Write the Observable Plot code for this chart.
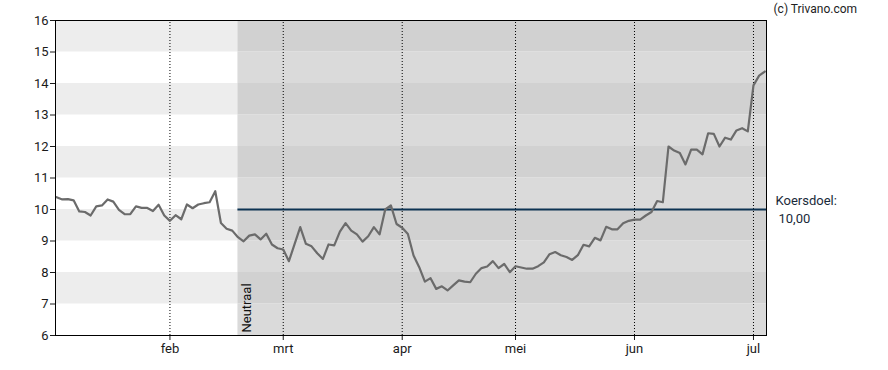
<!DOCTYPE html>
<html>
<head>
<meta charset="utf-8">
<script src="https://cdn.jsdelivr.net/npm/d3@7"></script>
<script src="https://cdn.jsdelivr.net/npm/@observablehq/plot@0.6"></script>
<style>
  html, body { margin: 0; padding: 0; background: #fff; }
  #chart { width: 888px; height: 370px; }
</style>
</head>
<body>
<div id="chart"></div>
<script>
// Closing prices, one per trading day
const prices = [
  10.39, 10.32, 10.33, 10.29, 9.94, 9.92, 9.81, 10.10, 10.13, 10.32, 10.25, 9.99, 9.85, 9.85, 10.10, 10.05, 10.05, 9.95, 10.15, 9.81, 9.64, 9.82, 9.69,
  10.16, 10.04, 10.16, 10.20, 10.23, 10.58, 9.57, 9.39, 9.33, 9.12, 8.99, 9.17, 9.21, 9.05, 9.23, 8.89, 8.77, 8.73, 8.36, 8.90, 9.44,
  8.91, 8.83, 8.61, 8.43, 8.89, 8.86, 9.30, 9.57, 9.33, 9.21, 8.98, 9.15, 9.44, 9.21, 10.00, 10.13, 9.54, 9.42,
  9.22, 8.54, 8.17, 7.71, 7.82, 7.48, 7.56, 7.43, 7.59, 7.75, 7.71, 7.69, 7.96, 8.14, 8.19, 8.36, 8.14, 8.27, 8.01, 8.20,
  8.16, 8.12, 8.12, 8.20, 8.32, 8.58, 8.65, 8.55, 8.49, 8.40, 8.55, 8.88, 8.83, 9.10, 9.02, 9.45, 9.37, 9.37, 9.56, 9.64, 9.68, 9.68,
  9.81, 9.92, 10.27, 10.23, 12.00, 11.87, 11.79, 11.43, 11.90, 11.90, 11.75, 12.42, 12.40, 12.00, 12.28, 12.22, 12.51, 12.58, 12.48, 13.94, 14.25, 14.38
];
// Month starts (trading-day index) and their labels
const monthTickIndex = [20, 40, 61, 81, 102, 123];
const monthLabels = ["feb", "mrt", "apr", "mei", "jun", "jul"];
const yTicks = [6, 7, 8, 9, 10, 11, 12, 13, 14, 15, 16];
const neutralStartIndex = 32;
const neutralLabel = "Neutraal";
const targetValue = 10;
const targetLabel = "Koersdoel:";
const targetValueLabel = "10,00";
const credit = "(c) Trivano.com";

const xMin = -0.2, xMax = 125.3;
const data = prices.map((v, i) => ({i, v}));

const bands = [];
for (let k = 6; k < 16; k++) {
  const shaded = (k % 2) === 1;
  bands.push({x1: xMin, x2: neutralStartIndex, y1: k, y2: k + 1, fill: shaded ? "#ededed" : "#ffffff"});
  bands.push({x1: neutralStartIndex, x2: xMax, y1: k, y2: k + 1, fill: shaded ? "#d1d1d1" : "#dadada"});
}
const labelOf = new Map(monthTickIndex.map((t, j) => [t, monthLabels[j]]));

const chart = Plot.plot({
  width: 888,
  height: 370,
  marginLeft: 55,
  marginRight: 122,
  marginTop: 20,
  marginBottom: 35,
  style: {fontFamily: "Roboto, sans-serif", fontSize: "13px", color: "#1a1a1a", background: "#fff"},
  x: {domain: [xMin, xMax], ticks: monthTickIndex, tickFormat: d => labelOf.get(d), tickSize: 5, tickPadding: 3, label: null},
  y: {domain: [6, 16], ticks: yTicks, tickSize: 5, tickPadding: 2, label: null},
  marks: [
    Plot.rect(bands, {x1: "x1", x2: "x2", y1: "y1", y2: "y2", fill: "fill"}),
    Plot.ruleX(monthTickIndex, {y1: 6, y2: 16, stroke: "#000", strokeWidth: 1, strokeDasharray: "1,2"}),
    Plot.ruleY([targetValue], {x1: neutralStartIndex, x2: xMax, stroke: "#0d3352", strokeWidth: 2}),
    Plot.line(data, {x: "i", y: "v", stroke: "#6b6b6b", strokeWidth: 2.2}),
    Plot.text([neutralLabel], {x: neutralStartIndex, y: 6, text: d => d, rotate: -90, textAnchor: "start", dx: 9, dy: -3, fill: "#111", fontSize: 13}),
    Plot.text([targetLabel], {x: xMax, y: targetValue, text: d => d, textAnchor: "start", dx: 9, dy: -9, fill: "#1a2a3a", fontSize: 13}),
    Plot.text([targetValueLabel], {x: xMax, y: targetValue, text: d => d, textAnchor: "start", dx: 12, dy: 9, fill: "#1a2a3a", fontSize: 13}),
    Plot.text([credit], {x: xMax, y: 16, text: d => d, textAnchor: "start", dx: 7, dy: -11, fill: "#222", fontSize: 12}),
    Plot.frame({stroke: "#000", strokeWidth: 1})
  ]
});
document.getElementById("chart").appendChild(chart);
</script>
</body>
</html>
